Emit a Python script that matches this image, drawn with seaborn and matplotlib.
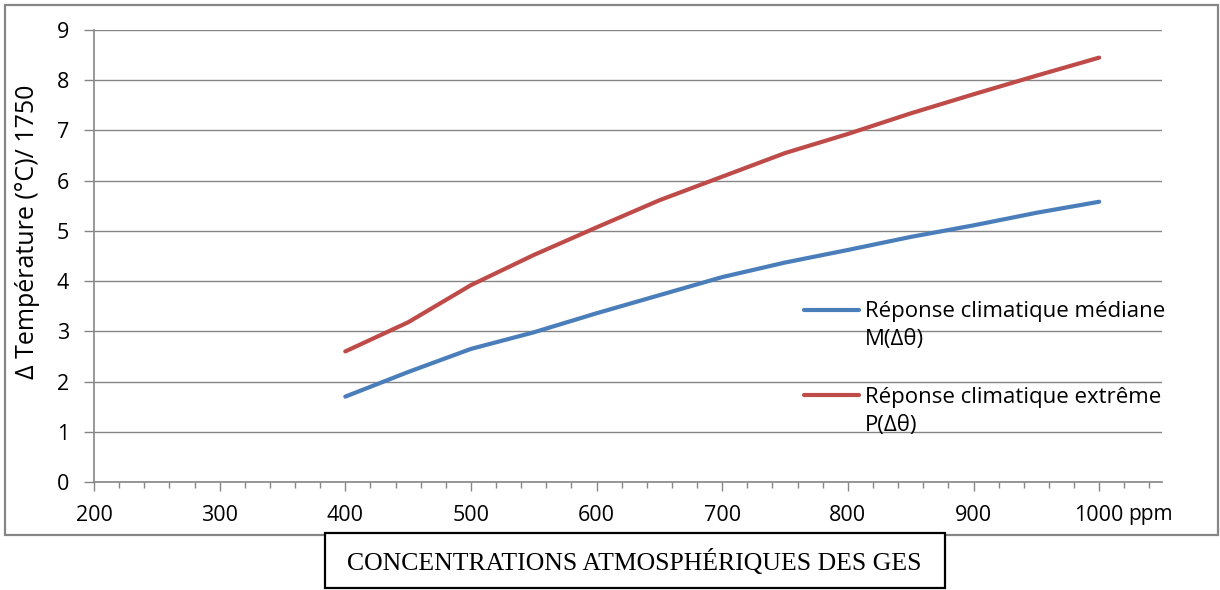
import matplotlib
matplotlib.use("Agg")
import matplotlib.pyplot as plt
from matplotlib.patches import Rectangle
from matplotlib.legend_handler import HandlerLine2D
from matplotlib.ticker import MultipleLocator
import seaborn as sns
import pandas as pd

# ---- data ----
ppm = [400, 450, 500, 550, 600, 650, 700, 750, 800, 850, 900, 950, 1000]
median_resp = [1.70, 2.19, 2.65, 2.98, 3.36, 3.72, 4.08, 4.37, 4.62, 4.88, 5.11, 5.36, 5.58]
extreme_resp = [2.60, 3.18, 3.92, 4.52, 5.07, 5.61, 6.08, 6.55, 6.93, 7.34, 7.72, 8.09, 8.45]
series_names = ["Réponse climatique médiane\nM(Δθ)", "Réponse climatique extrême\nP(Δθ)"]
colors = ["#4a7ebb", "#be4b48"]
x_ticks = [200, 300, 400, 500, 600, 700, 800, 900, 1000]
y_ticks = [0, 1, 2, 3, 4, 5, 6, 7, 8, 9]

df = pd.concat([
    pd.DataFrame({"ppm": ppm, "temp": median_resp, "serie": series_names[0]}),
    pd.DataFrame({"ppm": ppm, "temp": extreme_resp, "serie": series_names[1]}),
])

sns.set_theme(style="white")
plt.rcParams["font.family"] = ["Open Sans", "DejaVu Sans"]
plt.rcParams["text.color"] = "black"

W, H = 1220, 590
fig = plt.figure(figsize=(W / 100, H / 100), dpi=100)
ax = fig.add_axes([94 / W, 1 - 482 / H, (1162 - 94) / W, (482 - 30) / H])

sns.lineplot(data=df, x="ppm", y="temp", hue="serie", palette=colors,
             linewidth=3.0, ax=ax, legend=False, estimator=None)

ax.set_xlim(200, 1050)
ax.set_ylim(0, 9)
ax.set_xticks(x_ticks)
ax.xaxis.set_minor_locator(MultipleLocator(20))
ax.set_yticks(y_ticks)
ax.grid(axis="y", color="#868686", linewidth=1.0)
ax.set_axisbelow(True)
for s in ["top", "right"]:
    ax.spines[s].set_visible(False)
for s in ["left", "bottom"]:
    ax.spines[s].set_color("#868686")
    ax.spines[s].set_linewidth(1.2)

ax.tick_params(axis="y", which="major", left=True, length=7, width=1, color="#868686",
               pad=11, labelsize=15.5, labelcolor="black")
ax.tick_params(axis="x", which="major", bottom=True, length=6.5, width=1, color="#868686",
               pad=10, labelsize=15.5, labelcolor="black")
ax.tick_params(axis="x", which="minor", bottom=True, length=4, width=1, color="#868686")

ax.set_ylabel("Δ Température (°C)/ 1750", fontsize=18, color="black")
ax.yaxis.set_label_coords((40 - 94) / 1068, (482 - 232) / 452)
ax.set_xlabel("ppm", fontsize=15, color="black")
ax.xaxis.set_label_coords((1150 - 94) / 1068, (482 - 504) / 452)


class TopLineHandler(HandlerLine2D):
    def create_artists(self, legend, orig_handle, xdescent, ydescent, width, height, fontsize, trans):
        arts = super().create_artists(legend, orig_handle, xdescent, ydescent, width, height, fontsize, trans)
        for a in arts:
            yd = a.get_ydata()
            a.set_ydata([y + 0.72 * fontsize for y in yd])
        return arts


handles = ax.get_lines()[:2]
leg = ax.legend(handles, series_names, loc="upper left",
                bbox_to_anchor=((786 - 94) / 1068, (482 - 283) / 452),
                frameon=False, fontsize=16, handlelength=2.5, handletextpad=0.25,
                labelspacing=1.65, borderpad=0.3,
                handler_map={type(handles[0]): TopLineHandler()})
for t in leg.get_texts():
    t.set_linespacing(1.45)
    t.set_color("black")

# outer frame
fig.patches.append(Rectangle((5 / W, 1 - 535 / H), (1218 - 5) / W, (535 - 5) / H,
                             transform=fig.transFigure, fill=False,
                             edgecolor="#868686", linewidth=1.6, zorder=1))
# bottom title box
fig.patches.append(Rectangle((325 / W, 1 - 588 / H), (945 - 325) / W, (588 - 533) / H,
                             transform=fig.transFigure, facecolor="white",
                             edgecolor="black", linewidth=1.6, zorder=2))
fig.text(634 / W, 1 - 562 / H, "CONCENTRATIONS ATMOSPHÉRIQUES DES GES",
         family="Liberation Serif", fontsize=18.5, ha="center", va="center", zorder=3,
         color="black")

fig.savefig("out.png", dpi=100)
